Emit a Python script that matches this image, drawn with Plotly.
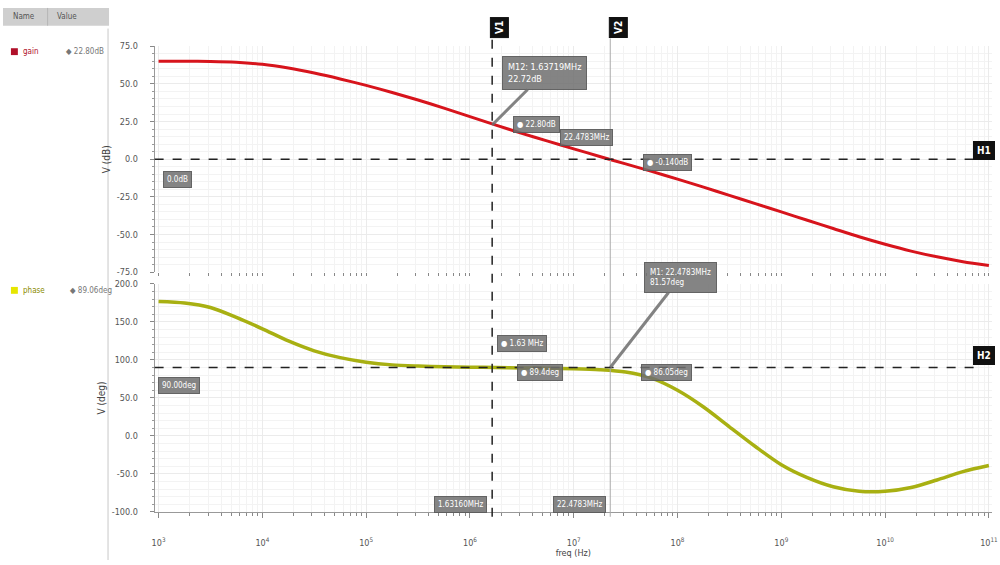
import math
import plotly.graph_objects as go

# ---------------- data ----------------
freq_hz = [1.0e3, 1.78e3, 3.16e3, 5.62e3,
           1.0e4, 1.78e4, 3.16e4, 5.62e4,
           1.0e5, 1.78e5, 3.16e5, 5.62e5,
           1.0e6, 1.78e6, 3.16e6, 5.62e6,
           1.0e7, 1.78e7, 3.16e7, 5.62e7,
           1.0e8, 1.78e8, 3.16e8, 5.62e8,
           1.0e9, 1.78e9, 3.16e9, 5.62e9,
           1.0e10, 1.78e10, 3.16e10, 5.62e10,
           1.0e11]
gain_db = [65.0, 65.0, 64.9, 64.4,
           63.0, 60.5, 57.2, 53.3,
           49.0, 44.3, 39.3, 33.9,
           28.3, 22.6, 17.2, 12.0,
           6.9, 1.8, -3.1, -8.1,
           -13.2, -18.5, -24.0, -29.5,
           -35.0, -40.5, -46.0, -51.5,
           -56.5, -61.0, -64.8, -68.0,
           -70.5]
phase_deg = [177, 175, 169, 156,
             141, 125, 112, 103,
             97, 93.5, 92, 91,
             90.5, 90, 89.5, 89,
             88.3, 87, 84, 76,
             60, 38, 12, -14,
             -38, -55, -67, -73,
             -73, -68, -58, -47,
             -39]

v1_freq = 1.63719e6
v2_freq = 22.4783e6
h1_level = 0.0
h2_level = 90.0
m12_gain = 22.72

x_tickvals = [1e3, 1e4, 1e5, 1e6, 1e7, 1e8, 1e9, 1e10, 1e11]
x_ticktext = ["10<sup>3</sup>", "10<sup>4</sup>", "10<sup>5</sup>", "10<sup>6</sup>",
              "10<sup>7</sup>", "10<sup>8</sup>", "10<sup>9</sup>", "10<sup>10</sup>",
              "10<sup>11</sup>"]
gain_ticks = [-75, -50, -25, 0, 25, 50, 75]
gain_ticktext = ["-75.0", "-50.0", "-25.0", "0.0", "25.0", "50.0", "75.0"]
phase_ticks = [-100, -50, 0, 50, 100, 150, 200]
phase_ticktext = ["-100.0", "-50.0", "0.0", "50.0", "100.0", "150.0", "200.0"]

# ---------------- helpers ----------------
W, H = 1000, 565
def px(x):
    return x / W
def py(y):
    return 1 - y / H

FONT = "Liberation Sans Narrow, DejaVu Sans Condensed, Arial Narrow, sans-serif"
RED = "#d7141c"
YEL = "#a8b012"
GRID = "#ebebeb"

fig = go.Figure()
fig.add_trace(go.Scatter(x=freq_hz, y=gain_db, mode="lines", line=dict(color=RED, width=3, shape="spline", smoothing=0.8),
                         xaxis="x", yaxis="y", name="gain", showlegend=False))
fig.add_trace(go.Scatter(x=freq_hz, y=phase_deg, mode="lines", line=dict(color=YEL, width=3.5, shape="spline", smoothing=0.8),
                         xaxis="x2", yaxis="y2", name="phase", showlegend=False))

xdom = [px(153), px(998)]
xrange_log = [2.962, 11.03]
common_x = dict(type="log", domain=xdom, range=xrange_log, showgrid=True, gridcolor=GRID,
                gridwidth=1, zeroline=False, tickmode="array", tickvals=x_tickvals,
                minor=dict(dtick="D1", showgrid=True, gridcolor="#f3f3f3", ticks="outside",
                           ticklen=3, tickcolor="#888"))
fig.update_layout(
    width=W, height=H, margin=dict(l=0, r=0, t=0, b=0),
    paper_bgcolor="white", plot_bgcolor="white",
    font=dict(family=FONT, size=9, color="#555"),
    xaxis=dict(anchor="y", showticklabels=False, showline=False, ticks="", **common_x),
    xaxis2=dict(anchor="y2", matches="x", showticklabels=True, ticktext=x_ticktext,
                showline=True, linecolor="#999", ticks="outside", ticklen=5, tickcolor="#888",
                ticklabelstandoff=17, ticklabeloverflow="allow",
                tickfont=dict(size=9, color="#555"),
                title=dict(text="freq (Hz)", font=dict(size=9, color="#444"), standoff=1),
                **common_x),
    yaxis=dict(domain=[py(272), py(42)], range=[-75, 75], anchor="x",
               tickmode="array", tickvals=gain_ticks, ticktext=gain_ticktext,
               showgrid=True, gridcolor=GRID, zeroline=False,
               showline=True, linecolor="#999", ticks="outside", ticklen=4, tickcolor="#888",
               ticklabelstandoff=10,
               minor=dict(dtick=5, showgrid=True, gridcolor="#f3f3f3", ticks="outside",
                          ticklen=2, tickcolor="#999"),
               title=dict(text="V (dB)", font=dict(size=10, color="#444"), standoff=4)),
    yaxis2=dict(domain=[py(516), py(284)], range=[-100, 200], anchor="x2",
                tickmode="array", tickvals=phase_ticks, ticktext=phase_ticktext,
                showgrid=True, gridcolor=GRID, zeroline=False,
                showline=True, linecolor="#999", ticks="outside", ticklen=4, tickcolor="#888",
                ticklabelstandoff=10,
                minor=dict(dtick=10, showgrid=True, gridcolor="#f3f3f3", ticks="outside",
                           ticklen=2, tickcolor="#999"),
                title=dict(text="V (deg)", font=dict(size=10, color="#444"), standoff=4)),
)

shapes = []
# left legend pane separator and header bar
shapes.append(dict(type="line", xref="paper", yref="paper", x0=px(106), x1=px(106), y0=0, y1=py(24),
                   line=dict(color="#c8c8c8", width=1)))
shapes.append(dict(type="rect", xref="paper", yref="paper", x0=0, x1=px(107), y0=py(21), y1=py(3),
                   fillcolor="#cfcfcf", line=dict(width=0)))
shapes.append(dict(type="line", xref="paper", yref="paper", x0=px(45), x1=px(45), y0=py(21), y1=py(3),
                   line=dict(color="#b5b5b5", width=1)))
# legend colour squares
shapes.append(dict(type="rect", xref="paper", yref="paper", x0=px(8), x1=px(15), y0=py(51), y1=py(44),
                   fillcolor="#b0102a", line=dict(width=0)))
shapes.append(dict(type="rect", xref="paper", yref="paper", x0=px(8), x1=px(15), y0=py(294), y1=py(287),
                   fillcolor="#e6e600", line=dict(width=0)))
# cursors
shapes.append(dict(type="line", xref="x", yref="paper", x0=v1_freq, x1=v1_freq, y0=py(521), y1=py(34),
                   line=dict(color="#222", width=1.5, dash="dash")))
shapes.append(dict(type="line", xref="x", yref="paper", x0=v2_freq, x1=v2_freq, y0=py(521), y1=py(34),
                   line=dict(color="#aaa", width=1)))
shapes.append(dict(type="line", xref="paper", yref="y", x0=px(153), x1=px(983), y0=h1_level, y1=h1_level,
                   line=dict(color="#222", width=1.5, dash="dash")))
shapes.append(dict(type="line", xref="paper", yref="y2", x0=px(153), x1=px(983), y0=h2_level, y1=h2_level,
                   line=dict(color="#222", width=1.5, dash="dash")))
fig.update_layout(shapes=shapes)

ann = []
def txt(x, y, s, size=8, color="#555"):
    ann.append(dict(xref="paper", yref="paper", x=px(x), y=py(y), text=s, showarrow=False,
                    xanchor="left", yanchor="middle", font=dict(size=size, color=color, family=FONT)))

txt(8, 12, "Name", 8, "#555")
txt(52, 12, "Value", 8, "#555")
txt(18, 47, "gain", 8, "#b0102a")
txt(62, 47, "◆ 22.80dB", 8, "#777")
txt(18, 291, "phase", 8, "#8a8a00")
txt(66, 291, "◆ 89.06deg", 8, "#777")

def tag(x, y, s, angle=0):
    ann.append(dict(xref="paper", yref="paper", x=px(x), y=py(y), text="<b>" + s + "</b>", showarrow=False,
                    xanchor="center", yanchor="middle",
                    textangle=angle, bgcolor="#111", bordercolor="#111", borderpad=3,
                    font=dict(size=10, color="white", family=FONT)))

tag(501, 23, "V1", -90)
tag(621, 23, "V2", -90)
tag(990, 148, "H1")
tag(990, 357, "H2")

def box(x, y, s, size=8):
    ann.append(dict(xref="paper", yref="paper", x=px(x), y=py(y), text=s, showarrow=False,
                    xanchor="center", yanchor="middle",
                    bgcolor="rgba(110,110,110,0.85)", bordercolor="rgba(90,90,90,0.9)", borderpad=3,
                    font=dict(size=size, color="white", family=FONT), align="left"))

def callout(xv, yv, xr, yr, dx, dy, s, size=8):
    ann.append(dict(xref=xr, yref=yr, x=xv, y=yv, ax=dx, ay=dy, text=s, showarrow=True,
                    arrowhead=0, arrowwidth=3, arrowcolor="rgba(110,110,110,0.85)",
                    bgcolor="rgba(110,110,110,0.85)", bordercolor="rgba(90,90,90,0.9)", borderpad=5,
                    font=dict(size=size, color="white", family=FONT), align="left"))

callout(math.log10(v1_freq), m12_gain, "x", "y", 52, -52, "M12: 1.63719MHz<br>22.72dB", 9)
callout(math.log10(v2_freq), h2_level, "x2", "y2", 70, -90, "M1: 22.4783MHz<br>81.57deg", 8)
box(538, 122, "● 22.80dB")
box(589, 135, "22.4783MHz")
box(671, 160, "● -0.140dB")
box(176, 178, "0.0dB")
box(524, 345, "● 1.63 MHz")
box(542, 374, "● 89.4deg")
box(670, 374, "● 86.05deg")
box(178, 387, "90.00deg")
box(462, 509, "1.63160MHz")
box(582, 509, "22.4783MHz")

fig.update_layout(annotations=ann)
fig.write_html("out.html")
